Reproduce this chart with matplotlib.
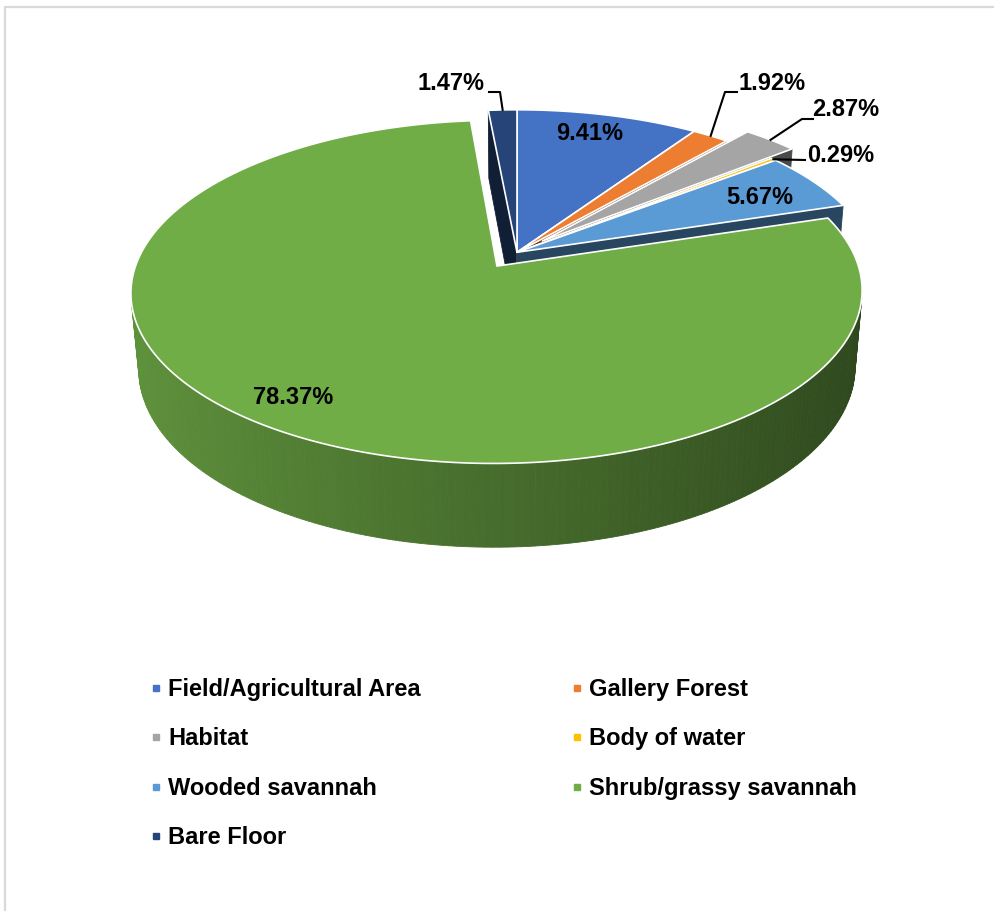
import numpy as np
import matplotlib.pyplot as plt
from matplotlib.patches import Polygon
from matplotlib.lines import Line2D
from matplotlib.colors import to_rgb

plt.rcParams['font.family'] = ['Liberation Sans', 'DejaVu Sans']

# data
categories = ['Field/Agricultural Area', 'Gallery Forest', 'Habitat', 'Body of water',
              'Wooded savannah', 'Shrub/grassy savannah', 'Bare Floor']
shares = [9.41, 1.92, 2.87, 0.29, 5.67, 78.37, 1.47]
colors = ['#4472C4', '#ED7D31', '#A5A5A5', '#FFC000', '#5B9BD5', '#70AD47', '#264478']
explode = [0.0, 0.0, 0.10, 0.0, 0.0, 0.10, 0.0]

# label layout (pixels); leader = elbow points from text towards the slice
label_pos = [(590, 134), (772, 83), (846, 110), (841, 156), (760, 198), (293, 397), (451, 83)]
leaders = [None, [(737, 92), (725, 92)], [(813, 119), (802, 119)], [(805, 160)],
           None, None, [(489, 92), (500, 92)]]

# 3d view of the pie (simple perspective camera)
ALPHA = np.radians(29.3)
DIST, FOCAL, THICK = 6.0, 2100.0, 0.24
CX, CY = 517.0, 327.0
SA, CA = np.sin(ALPHA), np.cos(ALPHA)
CAM = np.array([0.0, -DIST * CA, DIST * SA])


def depth_of(u, v, h):
    return DIST + v * CA - h * SA


def project(u, v, h):
    d = depth_of(u, v, h)
    return CX + FOCAL * u / d, CY - FOCAL * (v * SA + h * CA) / d


def shade(color, k):
    r, g, b = to_rgb(color)
    return (r * k, g * k, b * k)


fig = plt.figure(figsize=(9.95, 9.11), dpi=100)
ax = fig.add_axes([0, 0, 1, 1])
ax.set_xlim(0, 995)
ax.set_ylim(911, 0)
ax.axis('off')

# chart frame (only top/left visible in the original)
ax.plot([5, 5, 995], [911, 7, 7], color='#d9d9d9', lw=1.6)

fractions = np.array(shares) / np.sum(shares)
bounds = np.concatenate([[0], np.cumsum(fractions)]) * 2 * np.pi

walls = []
tops = []
anchors = []
for i, (col, e) in enumerate(zip(colors, explode)):
    t0, t1 = bounds[i], bounds[i + 1]
    tm = (t0 + t1) / 2
    du, dv = e * np.sin(tm), e * np.cos(tm)
    th = np.linspace(t0, t1, max(2, int(np.degrees(t1 - t0)) + 2))
    ru, rv = du + np.sin(th), dv + np.cos(th)

    tx, ty = project(np.r_[du, ru], np.r_[dv, rv], THICK)
    tops.append((np.column_stack([tx, ty]), col))
    anchors.append(project(du + np.sin(tm), dv + np.cos(tm), THICK))

    # outer curved wall, cut into small pieces for the shading
    for a in range(len(th) - 1):
        um, vm = (ru[a] + ru[a + 1]) / 2, (rv[a] + rv[a + 1]) / 2
        thm = (th[a] + th[a + 1]) / 2
        n = np.array([np.sin(thm), np.cos(thm), 0])
        if np.dot(CAM - [um, vm, THICK / 2], n) <= 0:
            continue
        x, y = project(np.array([ru[a], ru[a + 1], ru[a + 1], ru[a]]),
                       np.array([rv[a], rv[a + 1], rv[a + 1], rv[a]]),
                       np.array([THICK, THICK, 0, 0]))
        k = 0.63 - 0.22 * np.sin(thm)
        walls.append((depth_of(um, vm, THICK / 2), np.column_stack([x, y]), shade(col, k)))

    # flat radial walls
    for ang, sgn in ((t0, -1), (t1, 1)):
        n = sgn * np.array([np.cos(ang), -np.sin(ang), 0])
        eu, ev = du + np.sin(ang), dv + np.cos(ang)
        mid = np.array([(du + eu) / 2, (dv + ev) / 2, THICK / 2])
        if np.dot(CAM - mid, n) <= 0:
            continue
        x, y = project(np.array([du, eu, eu, du]), np.array([dv, ev, ev, dv]),
                       np.array([THICK, THICK, 0, 0]))
        walls.append((depth_of(*mid), np.column_stack([x, y]), shade(col, 0.45)))

walls.sort(key=lambda w: -w[0])
for _, xy, c in walls:
    ax.add_patch(Polygon(xy, closed=True, fc=c, ec=c, lw=0.6))
for xy, c in tops:
    ax.add_patch(Polygon(xy, closed=True, fc=c, ec='white', lw=1.2, joinstyle='round'))

# data labels
for i, s in enumerate(shares):
    x, y = label_pos[i]
    ax.text(x, y, f'{s:.2f}%', ha='center', va='center', fontsize=17,
            fontweight='bold', color='black')
    if leaders[i] is not None:
        pts = leaders[i] + [anchors[i]]
        ax.plot([p[0] for p in pts], [p[1] for p in pts], color='black', lw=1.5)

# legend, row-major order like the original
order = [0, 2, 4, 6, 1, 3, 5]
handles = [Line2D([], [], marker='s', ls='none', ms=4.2, color=colors[k]) for k in order]
fig.legend(handles, [categories[k] for k in order], ncol=2, frameon=False,
           loc='upper left', bbox_to_anchor=(151 / 995, 1 - 678 / 911),
           prop={'size': 17, 'weight': 'bold'}, handlelength=0.4, handletextpad=0.32,
           columnspacing=6.43, labelspacing=1.12, borderpad=0, borderaxespad=0)

fig.savefig('out.png', dpi=100)
